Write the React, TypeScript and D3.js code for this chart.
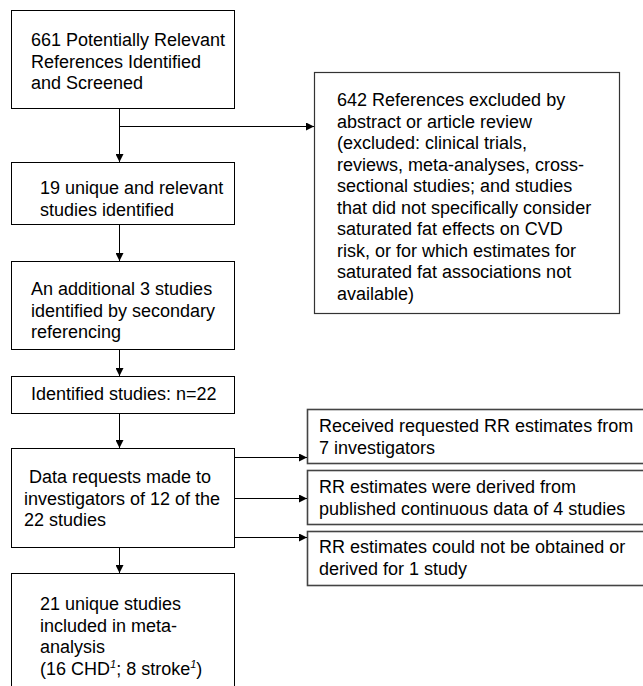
import { useEffect, useRef } from 'react';
import * as d3 from 'd3';

// Box texts (left column, top to bottom)
const mainLabels: string[][] = [
  ['661 Potentially Relevant', 'References Identified', 'and Screened'],
  ['19 unique and relevant', 'studies identified'],
  ['An additional 3 studies', 'identified by secondary', 'referencing'],
  ['Identified studies: n=22'],
  [' Data requests made to', 'investigators of 12 of the', '22 studies'],
  ['21 unique studies', 'included in meta-', 'analysis', '(16 CHD|1|; 8 stroke|1|)'],
];

const excludedLabel: string[] = [
  '642 References excluded by',
  'abstract or article review',
  '(excluded: clinical trials,',
  'reviews, meta-analyses, cross-',
  'sectional studies; and studies',
  'that did not specifically consider',
  'saturated fat effects on CVD',
  'risk, or for which estimates for',
  'saturated fat associations not',
  'available)',
];

const requestLabels: string[][] = [
  ['Received requested RR estimates from', '7 investigators'],
  ['RR estimates were derived from', 'published continuous data of 4 studies'],
  ['RR estimates could not be obtained or', 'derived for 1 study'],
];

// Layout (pixels)
const mainBoxes = [
  { y0: 10, y1: 108, tx: 31, ty: 46 },
  { y0: 162, y1: 224, tx: 40, ty: 194 },
  { y0: 261, y1: 349, tx: 31, ty: 295 },
  { y0: 376, y1: 413, tx: 31, ty: 400 },
  { y0: 448, y1: 547, tx: 24, ty: 483 },
  { y0: 573, y1: 700, tx: 40, ty: 610 },
];
const requestBoxes = [
  { y0: 409, y1: 463, ty: 432, ay: 457 },
  { y0: 470, y1: 524, ty: 493, ay: 498 },
  { y0: 531, y1: 585, ty: 553, ay: 537 },
];

const W = 643;
const H = 686;
const FONT = 'Liberation Sans, Arial, Helvetica, sans-serif';
const LINE = 21.5;

export default function App() {
  const svgRef = useRef<SVGSVGElement>(null);

  useEffect(() => {
    if (!svgRef.current) return;
    const svg = d3.select(svgRef.current);
    svg.selectAll('*').remove();

    svg.append('defs').append('marker')
      .attr('id', 'arrow')
      .attr('markerUnits', 'userSpaceOnUse')
      .attr('viewBox', '0 0 10 10')
      .attr('refX', 10)
      .attr('refY', 5)
      .attr('markerWidth', 9)
      .attr('markerHeight', 8)
      .attr('orient', 'auto')
      .append('path')
      .attr('d', 'M0,0L10,5L0,10z')
      .attr('fill', '#000');

    const leftX0 = 11;
    const leftX1 = 234;
    const trunkX = 119;

    // one text per line; parts between '|' are superscripts
    const drawLines = (x: number, y: number, lines: string[]) => {
      lines.forEach((line, i) => {
        const t = svg.append('text')
          .attr('x', x)
          .attr('y', y + i * LINE)
          .attr('font-family', FONT)
          .attr('font-size', 18)
          .attr('fill', '#000')
          .style('white-space', 'pre');
        let shift = 0;
        line.split('|').forEach((p, j) => {
          if (!p) return;
          const s = t.append('tspan').text(p);
          if (j % 2 === 1) {
            s.attr('font-size', 11).attr('font-style', 'italic').attr('dy', -7 - shift);
            shift = -7;
          } else if (shift !== 0) {
            s.attr('dy', -shift);
            shift = 0;
          }
        });
      });
    };

    // Main column boxes
    mainBoxes.forEach((b, i) => {
      svg.append('rect')
        .attr('x', leftX0 + 0.5)
        .attr('y', b.y0 + 0.5)
        .attr('width', leftX1 - leftX0)
        .attr('height', b.y1 - b.y0)
        .attr('fill', '#fff')
        .attr('stroke', '#000')
        .attr('stroke-width', 1);
      drawLines(b.tx, b.ty, mainLabels[i]);
      if (i > 0) {
        svg.append('line')
          .attr('x1', trunkX + 0.5).attr('x2', trunkX + 0.5)
          .attr('y1', mainBoxes[i - 1].y1).attr('y2', b.y0)
          .attr('stroke', '#000')
          .attr('marker-end', 'url(#arrow)');
      }
    });

    // Exclusion box
    const exX0 = 314;
    const exX1 = 619;
    svg.append('rect')
      .attr('x', exX0 + 0.5).attr('y', 72.5)
      .attr('width', exX1 - exX0).attr('height', 313 - 72)
      .attr('fill', '#fff')
      .attr('stroke', '#333')
      .attr('stroke-width', 1.2);
    drawLines(337, 106, excludedLabel);
    svg.append('line')
      .attr('x1', trunkX).attr('x2', exX0)
      .attr('y1', 126.5).attr('y2', 126.5)
      .attr('stroke', '#000')
      .attr('marker-end', 'url(#arrow)');

    // Request outcome boxes
    const rqX0 = 307;
    requestBoxes.forEach((b, i) => {
      svg.append('rect')
        .attr('x', rqX0 + 0.5).attr('y', b.y0 + 0.5)
        .attr('width', W + 10 - rqX0).attr('height', b.y1 - b.y0)
        .attr('fill', '#fff')
        .attr('stroke', '#444')
        .attr('stroke-width', 1.6);
      drawLines(319, b.ty, requestLabels[i]);
      svg.append('line')
        .attr('x1', leftX1).attr('x2', rqX0)
        .attr('y1', b.ay + 0.5).attr('y2', b.ay + 0.5)
        .attr('stroke', '#000')
        .attr('marker-end', 'url(#arrow)');
    });
  }, []);

  return (
    <div style={{ position: 'absolute', left: 0, top: 0, width: W, height: H, background: '#fff' }}>
      <svg ref={svgRef} width={W} height={H} style={{ display: 'block' }} />
    </div>
  );
}
